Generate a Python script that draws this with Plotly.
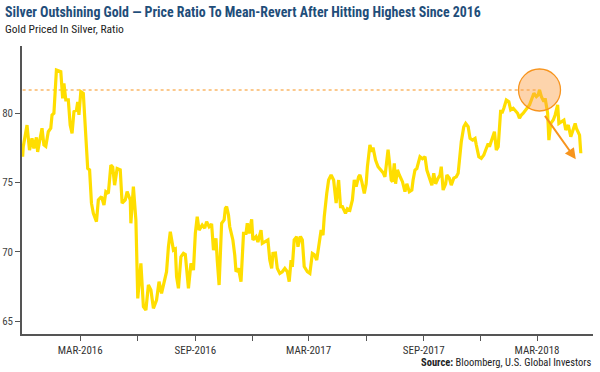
import plotly.graph_objects as go

dates = [
"2015-11-30","2015-12-01","2015-12-07","2015-12-11","2015-12-15","2015-12-18","2015-12-22","2015-12-24","2015-12-31",
"2016-01-03","2016-01-06","2016-01-10","2016-01-14","2016-01-16","2016-01-19","2016-01-23","2016-01-30",
"2016-02-02","2016-02-04","2016-02-07","2016-02-11","2016-02-14","2016-02-17","2016-02-20","2016-02-24","2016-02-26","2016-02-28",
"2016-03-02","2016-03-06","2016-03-10","2016-03-13","2016-03-16","2016-03-19","2016-03-22","2016-03-27","2016-03-30",
"2016-04-04","2016-04-08","2016-04-11","2016-04-15","2016-04-19","2016-04-22","2016-04-25","2016-04-29",
"2016-05-04","2016-05-07","2016-05-12","2016-05-15","2016-05-20","2016-05-21","2016-05-25","2016-05-29",
"2016-06-01","2016-06-06","2016-06-10","2016-06-14","2016-06-18","2016-06-22","2016-06-26",
"2016-07-01","2016-07-05","2016-07-09","2016-07-13","2016-07-17","2016-07-20","2016-07-23","2016-07-28","2016-07-31",
"2016-08-02","2016-08-05","2016-08-09","2016-08-13","2016-08-16","2016-08-21","2016-08-25","2016-08-29",
"2016-09-01","2016-09-04","2016-09-07","2016-09-12","2016-09-16","2016-09-19","2016-09-23","2016-09-27","2016-09-30",
"2016-10-04","2016-10-06","2016-10-09","2016-10-13","2016-10-17","2016-10-19","2016-10-21","2016-10-24","2016-10-26","2016-10-31",
"2016-11-03","2016-11-05","2016-11-09","2016-11-13","2016-11-15","2016-11-17","2016-11-21","2016-11-23","2016-11-26","2016-11-30",
"2016-12-02","2016-12-07","2016-12-10","2016-12-15","2016-12-17","2016-12-21","2016-12-26","2016-12-29",
"2017-01-01","2017-01-03","2017-01-07","2017-01-10","2017-01-14","2017-01-18","2017-01-22","2017-01-26","2017-01-29",
"2017-02-01","2017-02-03","2017-02-06","2017-02-10","2017-02-12","2017-02-16","2017-02-19","2017-02-22","2017-02-27",
"2017-03-03","2017-03-07","2017-03-10","2017-03-14","2017-03-18","2017-03-21","2017-03-24","2017-03-26","2017-03-30",
"2017-04-02","2017-04-06","2017-04-10","2017-04-14","2017-04-16","2017-04-18","2017-04-21","2017-04-24","2017-04-29",
"2017-05-02","2017-05-06","2017-05-10","2017-05-13","2017-05-16","2017-05-20","2017-05-22","2017-05-25","2017-05-29",
"2017-06-01","2017-06-03","2017-06-07","2017-06-10","2017-06-12","2017-06-16","2017-06-20","2017-06-25","2017-06-28",
"2017-07-01","2017-07-04","2017-07-06","2017-07-09","2017-07-11","2017-07-13","2017-07-16","2017-07-18","2017-07-21","2017-07-24","2017-07-29",
"2017-08-02","2017-08-05","2017-08-09","2017-08-13","2017-08-15","2017-08-18","2017-08-21","2017-08-23","2017-08-26","2017-08-30",
"2017-09-03","2017-09-06","2017-09-11","2017-09-14","2017-09-17","2017-09-20","2017-09-24","2017-09-27","2017-09-29",
"2017-10-02","2017-10-06","2017-10-08","2017-10-12","2017-10-15","2017-10-19","2017-10-23","2017-10-26","2017-10-29","2017-10-31",
"2017-11-04","2017-11-07","2017-11-11","2017-11-14","2017-11-18","2017-11-22","2017-11-24","2017-11-28",
"2017-12-02","2017-12-06","2017-12-09","2017-12-13","2017-12-15","2017-12-18","2017-12-21","2017-12-23","2017-12-26","2017-12-29",
"2018-01-02","2018-01-04","2018-01-07","2018-01-11","2018-01-15","2018-01-18","2018-01-22","2018-01-26","2018-01-29",
"2018-02-01","2018-02-04","2018-02-07","2018-02-11","2018-02-14","2018-02-17","2018-02-20","2018-02-24","2018-02-28",
"2018-03-03","2018-03-05","2018-03-08","2018-03-12","2018-03-14","2018-03-18","2018-03-20","2018-03-23","2018-03-27","2018-03-30",
"2018-04-03","2018-04-05","2018-04-09","2018-04-13","2018-04-16","2018-04-20","2018-04-24","2018-04-27",
"2018-05-01","2018-05-03","2018-05-06","2018-05-08","2018-05-10",
]

ratio = [
76.85,77.57,79.13,77.33,78.17,77.45,78.25,77.20,78.90,
77.70,77.60,78.65,78.90,79.86,79.98,83.10,82.98,
81.06,82.14,80.94,80.94,79.13,78.53,80.10,80.20,80.80,79.86,
81.54,81.42,78.05,76.00,75.90,73.50,72.77,72.17,73.73,
73.97,73.37,74.33,74.20,76.25,76.10,74.80,76.00,
75.90,73.50,73.73,74.33,73.73,72.05,74.69,72.29,
66.64,69.16,66.04,65.80,67.60,67.24,65.92,
66.52,67.84,67.00,67.84,68.56,70.36,71.44,70.12,70.20,
68.20,67.36,69.64,69.88,69.80,67.36,69.16,68.68,
71.32,72.52,71.56,71.92,71.70,72.17,71.80,72.00,70.12,
70.97,69.40,67.60,72.05,72.30,73.13,73.25,72.65,71.80,70.85,
69.76,68.56,68.80,67.84,70.36,71.32,71.32,72.05,71.32,72.34,
70.85,71.09,70.70,71.56,70.60,70.70,70.85,69.40,
68.80,69.88,69.90,68.80,68.44,68.56,68.80,68.56,67.84,
69.40,68.90,70.85,71.09,70.36,71.10,70.85,68.93,68.56,
68.44,69.88,69.80,69.40,70.60,71.56,71.20,72.52,74.20,
75.17,75.53,75.17,73.50,74.33,75.17,73.25,73.25,72.77,
73.10,73.00,73.73,75.17,74.70,75.41,75.53,75.05,74.20,
74.90,76.13,77.69,77.20,77.50,76.61,76.13,75.90,75.70,
75.40,76.85,77.35,76.13,75.17,75.05,76.37,74.90,75.90,75.53,75.05,
74.33,74.90,74.33,74.45,75.17,75.89,76.00,76.37,76.85,76.70,
76.85,75.89,75.17,74.80,75.65,74.90,75.30,75.53,76.13,
74.45,74.90,75.53,75.30,74.80,75.30,75.40,75.65,77.45,77.93,
79.01,79.25,79.01,78.17,78.05,78.17,77.69,76.85,
76.73,76.97,77.33,77.80,77.57,78.05,78.41,78.65,77.33,77.57,
80.22,79.98,80.34,80.94,80.82,80.22,80.34,80.10,79.98,
79.62,79.86,79.98,80.22,80.34,80.58,80.94,81.42,81.18,
81.30,81.66,81.18,80.82,81.06,79.98,78.05,79.25,79.49,79.86,
80.58,79.25,79.37,79.49,78.77,79.13,78.29,78.65,
79.25,78.89,78.65,78.41,77.10,
]

tick_dates = ["2016-03-01","2016-06-01","2016-09-01","2016-12-01","2017-03-01",
              "2017-06-01","2017-09-01","2017-12-01","2018-03-01"]
tick_text = ["MAR-2016","","SEP-2016","","MAR-2017","","SEP-2017","","MAR-2018"]
y_ticks = [65, 70, 75, 80]

high_level = 81.66
peak_date = "2018-03-05"
arrow_tail = ("2018-03-12", 79.9)
arrow_head = ("2018-05-02", 76.66)

title_text = "<b>Silver Outshining Gold — Price Ratio To Mean-Revert After Hitting Highest Since 2016</b>"
subtitle_text = "Gold Priced In Silver, Ratio"
source_text = "<b>Source:</b> Bloomberg, U.S. Global Investors"

COND = "Roboto Condensed, Liberation Sans Narrow, Arial Narrow, Roboto, sans-serif"
ORANGE = "#F7941D"

# plot area geometry (pixels)
L, R, T, B = 22, 7, 46, 38
W, H = 600, 372
PW, PH = W - L - R, H - T - B


def px_to_paper(px, py):
    return (px - L) / PW, (H - B - py) / PH


fig = go.Figure()
fig.add_trace(go.Scatter(
    x=dates, y=ratio, mode="lines",
    line=dict(color="#FFDE00", width=3.2), hoverinfo="skip", showlegend=False))

fig.add_shape(type="line", xref="x", yref="y", x0=dates[0], x1=peak_date,
              y0=high_level, y1=high_level,
              line=dict(color=ORANGE, width=1.2, dash="dot"), layer="below")
fig.add_shape(type="circle", xref="x", yref="y",
              xsizemode="pixel", ysizemode="pixel",
              xanchor=peak_date, yanchor=high_level,
              x0=-21, x1=21, y0=-21, y1=21,
              fillcolor="rgba(250,160,70,0.45)",
              line=dict(color=ORANGE, width=1.3), layer="above")
fig.add_annotation(x=arrow_head[0], y=arrow_head[1], ax=arrow_tail[0], ay=arrow_tail[1],
                   xref="x", yref="y", axref="x", ayref="y", text="",
                   showarrow=True, arrowhead=2, arrowsize=1.1, arrowwidth=2,
                   arrowcolor=ORANGE)

tx, ty = px_to_paper(3, 12)
fig.add_annotation(xref="paper", yref="paper", x=tx, y=ty, xanchor="left", yanchor="middle",
                   text=title_text, showarrow=False,
                   font=dict(family=COND, size=13.9, color="#1F4E7A"))
sx, sy = px_to_paper(3, 29)
fig.add_annotation(xref="paper", yref="paper", x=sx, y=sy, xanchor="left", yanchor="middle",
                   text=subtitle_text, showarrow=False,
                   font=dict(family=COND, size=11.5, color="#222222"))
rx, ry = px_to_paper(594, 362)
fig.add_annotation(xref="paper", yref="paper", x=rx, y=ry, xanchor="right", yanchor="middle",
                   text=source_text, showarrow=False,
                   font=dict(family=COND, size=10.5, color="#222222"))

fig.update_layout(
    width=W, height=H,
    margin=dict(l=L, r=R, t=T, b=B, autoexpand=False),
    paper_bgcolor="white", plot_bgcolor="white",
    showlegend=False,
)

fig.update_xaxes(type="date", range=["2015-11-29", "2018-05-29 12:00"],
                 tickvals=tick_dates, ticktext=tick_text,
                 ticks="outside", ticklen=5, tickcolor="#555555", tickwidth=1,
                 showline=True, linecolor="#555555", linewidth=1.5,
                 showgrid=False, zeroline=False, automargin=False,
                 tickfont=dict(family=COND, size=11, color="#333333"))
fig.update_yaxes(range=[64.07, 84.83], tickvals=y_ticks,
                 ticks="outside", ticklen=5, tickcolor="#555555", tickwidth=1,
                 showline=True, linecolor="#555555", linewidth=1.5,
                 showgrid=False, zeroline=False, automargin=False,
                 tickfont=dict(family=COND, size=11, color="#444444"))

fig.write_html("out.html", config={"displayModeBar": False},
               post_script="document.body.style.margin='0';document.body.style.overflow='hidden';")
